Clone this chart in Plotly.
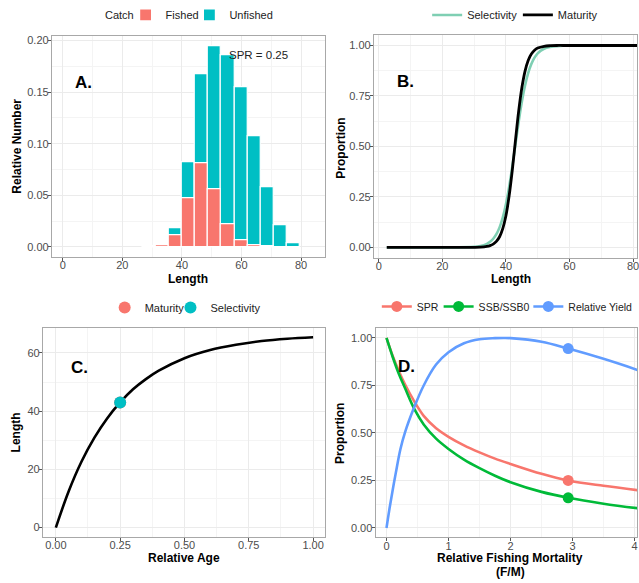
import plotly.graph_objects as go

# ---------------- DATA ----------------
# Panel A: length-frequency (relative numbers)
len_bins = [29.0, 33.4, 37.8, 42.2, 46.6, 51.0, 55.4, 59.8, 64.2, 68.6, 73.0, 77.4]
unfished = [0.0006, 0.0025, 0.0186, 0.0819, 0.1676, 0.1949, 0.1862, 0.1544, 0.1072, 0.0575, 0.0209, 0.0039]
fished = [0.0006, 0.0015, 0.0116, 0.0472, 0.0809, 0.0562, 0.0225, 0.0061, 0.0016, 0.0006, 0.0002, 0.0]
spr_label = "SPR = 0.25"

# Panel B: selectivity & maturity at length
b_len = [2.5, 20, 30, 32, 34, 35, 36, 37, 38, 39, 40, 41, 42, 43, 44, 45, 46, 47, 48, 49, 50, 52, 54, 56, 58, 70, 85]
b_mat = [0.0, 0.0, 0.0005, 0.0015, 0.0051, 0.0092, 0.0166, 0.0299, 0.053, 0.093, 0.157, 0.254, 0.382, 0.530,
         0.673, 0.789, 0.872, 0.926, 0.958, 0.976, 0.987, 0.996, 0.999, 1.0, 1.0, 1.0, 1.0]
b_sel = [0.0, 0.0, 0.003, 0.0073, 0.0179, 0.0278, 0.0429, 0.0657, 0.0993, 0.1474, 0.2134, 0.2983, 0.400, 0.511,
         0.621, 0.720, 0.801, 0.863, 0.908, 0.940, 0.961, 0.984, 0.993, 0.997, 0.999, 1.0, 1.0]

# Panel C: growth curve
c_age = [0.0, 0.05, 0.1, 0.15, 0.2, 0.25, 0.3, 0.35, 0.4, 0.5, 0.6, 0.7, 0.8, 0.9, 1.0]
c_len = [0.0, 12.5, 22.7, 30.9, 37.6, 43.0, 47.5, 51.0, 53.9, 58.2, 61.0, 62.8, 64.1, 64.9, 65.4]
mat_pt = (0.25, 43.0)
sel_pt = (0.25, 43.0)

# Panel D: per-recruit curves vs F/M
d_f = [0.0, 0.1, 0.2, 0.3, 0.45, 0.6, 0.8, 1.0, 1.25, 1.5, 1.75, 2.0, 2.5, 2.93, 3.5, 4.1]
d_spr = [1.0, 0.905, 0.825, 0.755, 0.665, 0.59, 0.525, 0.48, 0.435, 0.398, 0.365, 0.337, 0.285, 0.25, 0.222, 0.197]
d_ssb = [1.0, 0.90, 0.81, 0.735, 0.625, 0.545, 0.47, 0.416, 0.36, 0.315, 0.275, 0.241, 0.19, 0.159, 0.128, 0.102]
d_fy = [0.0, 0.05, 0.1, 0.15, 0.225, 0.3, 0.44, 0.6, 0.8, 1.0, 1.25, 1.5, 1.75, 1.9, 2.0, 2.5, 2.93, 3.5, 4.1]
d_yield = [0.0, 0.105, 0.2, 0.29, 0.416, 0.505, 0.63, 0.75, 0.86, 0.925, 0.972, 0.993, 0.999, 1.0, 0.999, 0.98,
           0.944, 0.89, 0.826]
d_cur_f = 2.93
d_cur_spr = 0.25
d_cur_ssb = 0.159
d_cur_yield = 0.944

# ---------------- STYLE ----------------
W, H = 639, 583
RED = "#F8766D"
TEAL = "#00BFC4"
GREEN = "#00BA38"
BLUE = "#619CFF"
MINT = "#7FCFB3"
GRID = "#EBEBEB"
MINOR = "#F4F4F4"
BORDER = "#A8A8A8"
FONT = "Liberation Sans, Arial, sans-serif"
LEGTXT = "#222222"


def px_x(v):
    return v / W


def px_y(v):
    return 1 - v / H


fig = go.Figure()

# Panel A
fig.add_trace(go.Bar(x=len_bins, y=unfished, name="Unfished", marker=dict(color=TEAL, line=dict(color="white", width=1.2)),
                     width=4.4, xaxis="x", yaxis="y", legend="legend2"))
fig.add_trace(go.Bar(x=len_bins, y=fished, name="Fished", marker=dict(color=RED, line=dict(color="white", width=1.2)),
                     width=4.4, xaxis="x", yaxis="y", legend="legend"))

# Panel B
fig.add_trace(go.Scatter(x=b_len, y=b_sel, mode="lines", name="Selectivity", line=dict(color=MINT, width=2.6, shape="spline"),
                         xaxis="x2", yaxis="y2", legend="legend3"))
fig.add_trace(go.Scatter(x=b_len, y=b_mat, mode="lines", name="Maturity", line=dict(color="black", width=2.8, shape="spline"),
                         xaxis="x2", yaxis="y2", legend="legend4"))

# Panel C
fig.add_trace(go.Scatter(x=c_age, y=c_len, mode="lines", line=dict(color="black", width=2.6, shape="spline"),
                         showlegend=False, xaxis="x3", yaxis="y3"))
fig.add_trace(go.Scatter(x=[mat_pt[0]], y=[mat_pt[1]], mode="markers", name="Maturity",
                         marker=dict(color=RED, size=12), xaxis="x3", yaxis="y3", legend="legend5"))
fig.add_trace(go.Scatter(x=[sel_pt[0]], y=[sel_pt[1]], mode="markers", name="Selectivity",
                         marker=dict(color=TEAL, size=12), xaxis="x3", yaxis="y3", legend="legend6"))

# Panel D
for ys, xs, col, nm, cy, lg in [(d_spr, d_f, RED, "SPR", d_cur_spr, "legend7"),
                                (d_ssb, d_f, GREEN, "SSB/SSB0", d_cur_ssb, "legend8"),
                                (d_yield, d_fy, BLUE, "Relative Yield", d_cur_yield, "legend9")]:
    fig.add_trace(go.Scatter(x=xs, y=ys, mode="lines", line=dict(color=col, width=2.6, shape="spline"),
                             showlegend=False, xaxis="x4", yaxis="y4"))
    fig.add_trace(go.Scatter(x=[d_cur_f], y=[cy], mode="lines+markers", name=nm,
                             line=dict(color=col, width=2.6), marker=dict(color=col, size=11),
                             xaxis="x4", yaxis="y4", legend=lg))


def axis(domain, rng, dtick, minor_dtick, anchor, is_x, tick0=0, fmt=None):
    d = dict(domain=domain, range=rng, dtick=dtick, tick0=tick0, anchor=anchor,
             showgrid=True, gridcolor=GRID, gridwidth=1,
             minor=dict(dtick=minor_dtick, tick0=tick0, showgrid=True, gridcolor=MINOR, gridwidth=0.6),
             showline=True, linecolor=BORDER, linewidth=1, mirror=True,
             ticks="outside", ticklen=3, tickcolor="#555555", tickwidth=1,
             ticklabelstandoff=-5 if is_x else -3, ticklabeloverflow="allow",
             tickfont=dict(family=FONT, size=11, color="#4D4D4D"),
             zeroline=False, fixedrange=True)
    if fmt:
        d["tickformat"] = fmt
    return d


A_x = [px_x(52), px_x(326)]
A_y = [px_y(255), px_y(33.3)]
B_x = [px_x(375), 1.0]
B_y = [px_y(255.85), px_y(32.55)]
C_x = [px_x(43), px_x(325.7)]
C_y = [px_y(537), px_y(326.3)]
D_x = [px_x(376.7), 1.0]
D_y = [px_y(537.25), px_y(327.15)]

fig.update_layout(
    width=W, height=H, margin=dict(l=0, r=0, t=0, b=0),
    paper_bgcolor="white", plot_bgcolor="white",
    barmode="overlay", bargap=0,
    font=dict(family=FONT, color="black"),
    xaxis=axis(A_x, [-3.68, 88.03], 20, 10, "y", True),
    yaxis=axis(A_y, [-0.0095, 0.2042], 0.05, 0.025, "x", False, fmt=".2f"),
    xaxis2=axis(B_x, [-1.57, 81.25], 20, 10, "y2", True),
    yaxis2=axis(B_y, [-0.05, 1.05], 0.25, 0.125, "x2", False, fmt=".2f"),
    xaxis3=axis(C_x, [-0.0504, 1.045], 0.25, 0.125, "y3", True, fmt=".2f"),
    yaxis3=axis(C_y, [-3.3, 68.7], 20, 10, "x3", False),
    xaxis4=axis(D_x, [-0.177, 4.04], 1, 0.5, "y4", True),
    yaxis4=axis(D_y, [-0.05, 1.05], 0.25, 0.125, "x4", False, fmt=".2f"),
)


def leg(sym_center_x, center_y, size=11):
    # one legend entry; symbol is drawn ~20px right of the legend's left edge
    return dict(x=px_x(sym_center_x - 20), y=px_y(center_y), xanchor="left", yanchor="middle",
                orientation="h", bgcolor="rgba(0,0,0,0)", borderwidth=0,
                font=dict(family=FONT, size=size, color=LEGTXT), itemwidth=30)


fig.update_layout(
    legend=leg(146, 12), legend2=leg(210, 12),
    legend3=leg(448.5, 12), legend4=leg(539.5, 12),
    legend5=leg(125, 306), legend6=leg(191, 306),
    legend7=leg(398, 305, 10.5), legend8=leg(460, 305, 10.5), legend9=leg(550, 305, 10.5),
)

ann = []


def text(x, y, s, size=12, bold=True, angle=0, color="black", family=FONT):
    ann.append(dict(x=px_x(x), y=px_y(y), xref="paper", yref="paper", text=("<b>%s</b>" % s) if bold else s,
                    showarrow=False, xanchor="center", yanchor="middle", textangle=angle,
                    font=dict(family=family, size=size, color=color)))


# legend title for panel A
text(120, 12, "Catch", size=11, bold=False, color=LEGTXT)

# axis titles
text(189, 277, "Length")
text(17.5, 144, "Relative Number", angle=-90)
text(512.5, 277, "Length")
text(341.7, 145.8, "Proportion", angle=-90)
text(185, 558.3, "Relative Age")
text(17, 431.7, "Length", angle=-90)
text(511.7, 558.3, "Relative Fishing Mortality")
text(511.7, 571.7, "(F/M)")
text(341.7, 432.5, "Proportion", angle=-90)

# panel letters
text(84, 80, "A.", size=17)
text(407, 79, "B.", size=17)
text(80, 366, "C.", size=17)
text(408, 365, "D.", size=17)

fig.update_layout(annotations=ann)
fig.add_annotation(x=65.6, y=0.1855, xref="x", yref="y", text=spr_label, showarrow=False,
                   font=dict(family=FONT, size=11.5, color=LEGTXT), xanchor="center", yanchor="middle")

fig.write_html("out.html", config={"displayModeBar": False},
               post_script="document.body.style.margin='0';document.body.style.overflow='hidden';")
